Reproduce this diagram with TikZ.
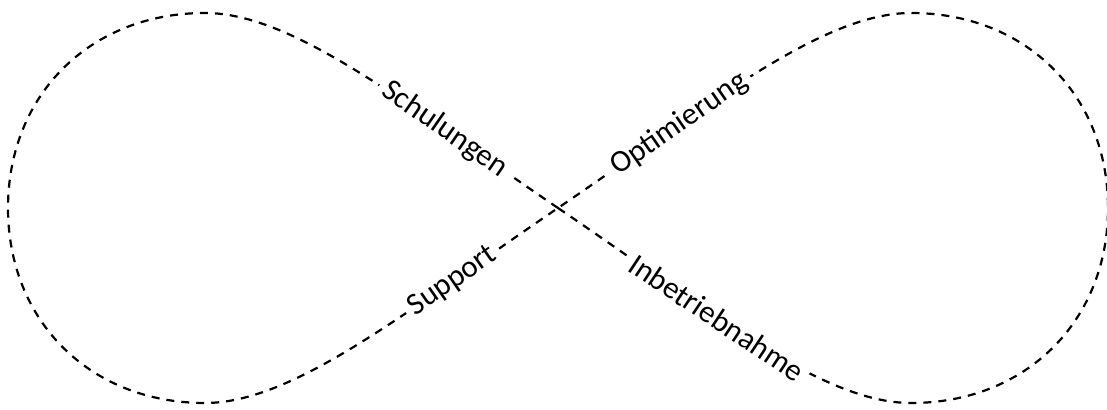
\documentclass[tikz,border=0pt]{standalone}
\usepackage{fontspec}
\setmainfont{Carlito}

\begin{document}
\begin{tikzpicture}[x=0.5pt, y=-0.5pt,
  loopline/.style={draw=black, line width=1.1pt, dash pattern=on 4pt off 3.5pt},
  lbl/.style={fill=white, sloped, inner xsep=3pt, inner ysep=1pt, font=\fontsize{15.5}{18}\selectfont}]
\useasboundingbox (0,0) rectangle (1107,410);
\coordinate (c) at (558,208);
\coordinate (tl) at (205,13);
\coordinate (ll) at (8,208);
\coordinate (bl) at (205,403);
\coordinate (tr) at (911,13);
\coordinate (rr) at (1108,208);
\coordinate (br) at (911,403);

\draw[loopline] (c) .. controls (409,107) and (295,13) .. (tl) node[lbl, pos=0.27] (schul) {Schulungen}
  .. controls (90,13) and (8,95) .. (ll)
  .. controls (8,321) and (90,403) .. (bl)
  .. controls (295,403) and (409,309) .. (c) node[lbl, pos=0.75] (supp) {Support}
  .. controls (707,107) and (821,13) .. (tr) node[lbl, pos=0.29] (opti) {Optimierung}
  .. controls (1026,13) and (1108,95) .. (rr)
  .. controls (1108,321) and (1026,403) .. (br)
  .. controls (821,403) and (707,309) .. (c) node[lbl, pos=0.61] (inbe) {Inbetriebnahme};
\end{tikzpicture}
\end{document}
